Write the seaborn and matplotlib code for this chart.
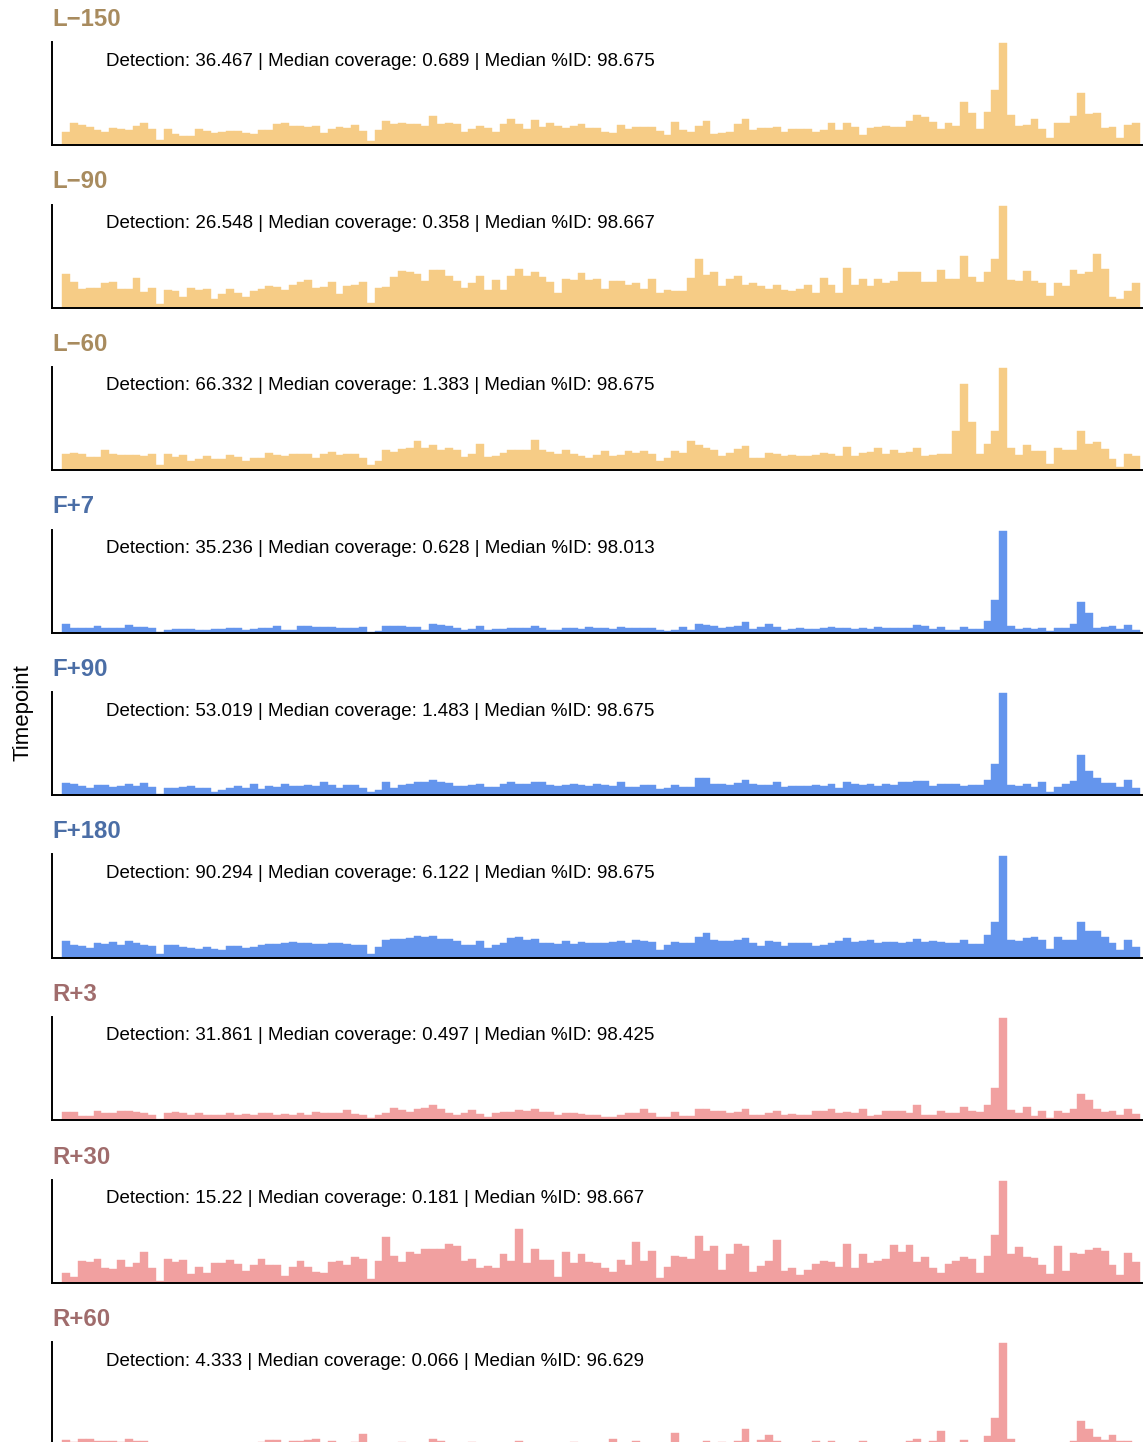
import numpy as np
import matplotlib
matplotlib.use("Agg")
import matplotlib.pyplot as plt
import seaborn as sns

# ---------------- data (coverage per genome bin) ----------------
TIMEPOINTS = ["L\u2212150", "L\u221290", "L\u221260", "F+7", "F+90", "F+180", "R+3", "R+30", "R+60"]
GROUPS = ["L", "L", "L", "F", "F", "F", "R", "R", "R"]
DETECTION = ["36.467", "26.548", "66.332", "35.236", "53.019", "90.294", "31.861", "15.22", "4.333"]
MED_COV = ["0.689", "0.358", "1.383", "0.628", "1.483", "6.122", "0.497", "0.181", "0.066"]
MED_ID = ["98.675", "98.667", "98.675", "98.013", "98.675", "98.675", "98.425", "98.667", "96.629"]

L150 = [39, 66, 60, 54, 44, 39, 52, 48, 45, 57, 66, 48, 15, 49, 32, 28, 28, 48, 42, 35,
        39, 42, 42, 37, 34, 44, 44, 64, 66, 58, 58, 54, 56, 37, 47, 54, 50, 60, 42, 12,
        44, 72, 62, 66, 64, 64, 56, 86, 64, 66, 64, 40, 47, 56, 50, 40, 64, 78, 64, 48,
        74, 54, 66, 56, 50, 56, 62, 50, 52,
        40, 35, 60, 47, 54, 54, 54, 41, 29, 69, 44, 38, 57, 72, 32, 35, 40, 63, 78, 44,
        50, 52, 55, 40, 47, 47, 47, 40, 44, 66, 44, 66, 55, 29, 52, 55, 58, 55, 55, 72,
        90, 84, 69, 49, 66, 58, 127, 95, 47, 99, 165, 303, 90, 58, 61, 78, 47, 22, 66, 66,
        87, 156, 93, 95, 52, 55, 22, 61, 66]
L90 = [100, 76, 56, 59, 59, 71, 74, 56, 56, 87, 46, 59, 10, 53, 50, 30, 59, 53, 56, 25,
       40, 56, 43, 30, 50, 56, 65, 61, 53, 68, 74, 82, 59, 61, 74, 39, 65, 68, 74, 13,
       59, 62, 90, 108, 105, 98, 79, 111, 111, 94, 79, 59, 71, 94, 51, 82, 51, 94, 113, 94,
       105, 90, 74, 44, 84, 82, 102, 80, 84,
       56, 77, 79, 68, 71, 56, 84, 42, 53, 50, 48, 87, 142, 96, 105, 65, 84, 93, 68, 73,
       65, 56, 68, 53, 48, 56, 68, 42, 87, 68, 42, 116, 68, 84, 65, 84, 73, 77, 105, 105,
       105, 74, 74, 111, 85, 85, 151, 90, 74, 105, 142, 301, 82, 79, 108, 77, 71, 33, 71, 65,
       111, 100, 105, 158, 114, 30, 25, 48, 71]
L60 = [48, 51, 46, 38, 39, 59, 48, 44, 44, 44, 42, 46, 16, 48, 39, 44, 26, 33, 40, 34,
       34, 44, 38, 28, 36, 36, 51, 44, 40, 46, 48, 48, 36, 46, 54, 44, 48, 46, 36, 16,
       28, 60, 54, 62, 66, 86, 66, 74, 58, 65, 60, 38, 48, 77, 38, 41, 49, 58, 58, 58,
       88, 58, 54, 46, 58, 46, 40, 36, 44,
       56, 41, 44, 56, 49, 56, 46, 28, 35, 56, 51, 86, 74, 66, 60, 42, 51, 62, 70, 36,
       36, 50, 46, 40, 44, 40, 40, 44, 50, 46, 42, 68, 42, 50, 54, 64, 46, 60, 51, 54,
       64, 42, 44, 46, 48, 116, 253, 143, 46, 78, 116, 301, 64, 44, 73, 56, 56, 18, 64, 60,
       58, 114, 76, 83, 62, 33, 10, 46, 41]
F7 = [26, 13, 13, 13, 18, 13, 13, 13, 21, 16, 16, 14, 2, 8, 9, 9, 9, 8, 7, 9,
      9, 13, 13, 7, 11, 13, 13, 18, 8, 8, 18, 18, 15, 15, 15, 12, 12, 12, 15, 2,
      3, 19, 18, 18, 15, 17, 8, 26, 22, 18, 12, 7, 10, 18, 8, 10, 10, 12, 12, 12,
      18, 12, 8, 8, 13, 13, 10, 15, 13,
      12, 10, 15, 12, 12, 12, 12, 7, 5, 8, 15, 7, 24, 21, 18, 14, 15, 18, 30, 10,
      15, 24, 15, 7, 10, 12, 10, 10, 12, 15, 12, 12, 10, 12, 10, 15, 12, 12, 12, 12,
      21, 18, 10, 15, 6, 6, 15, 9, 9, 35, 96, 304, 19, 11, 12, 9, 12, 4, 12, 12,
      24, 90, 59, 13, 16, 18, 10, 21, 8]
F90 = [36, 34, 28, 22, 30, 30, 24, 28, 34, 28, 36, 24, 4, 22, 22, 24, 26, 22, 22, 10,
       15, 20, 28, 22, 32, 18, 28, 24, 34, 28, 26, 30, 28, 38, 30, 20, 30, 30, 20, 10,
       16, 38, 20, 30, 34, 38, 40, 46, 40, 36, 28, 26, 30, 32, 24, 24, 34, 38, 34, 34,
       40, 40, 30, 26, 30, 34, 30, 28, 32,
       30, 26, 38, 24, 24, 30, 30, 18, 22, 30, 24, 24, 50, 50, 32, 34, 30, 36, 46, 34,
       31, 30, 38, 24, 26, 28, 28, 30, 26, 34, 20, 40, 34, 31, 34, 26, 34, 30, 38, 38,
       41, 41, 28, 34, 33, 32, 26, 30, 30, 46, 94, 304, 31, 28, 34, 24, 38, 10, 24, 34,
       41, 120, 73, 50, 36, 36, 24, 46, 20]
F180 = [50, 38, 33, 29, 42, 40, 45, 38, 50, 42, 38, 34, 9, 37, 38, 32, 29, 26, 32, 26,
        21, 33, 35, 28, 32, 36, 41, 41, 42, 45, 44, 42, 40, 40, 42, 44, 40, 37, 37, 9,
        32, 53, 55, 56, 57, 64, 60, 64, 56, 54, 48, 38, 38, 50, 29, 37, 42, 59, 62, 52,
        55, 44, 44, 40, 48, 40, 46, 42, 42,
        44, 46, 48, 42, 52, 48, 45, 22, 38, 47, 44, 42, 60, 72, 52, 50, 48, 52, 58, 42,
        35, 50, 45, 34, 44, 42, 44, 34, 37, 44, 48, 58, 46, 50, 53, 42, 47, 46, 42, 45,
        55, 47, 48, 47, 44, 42, 52, 40, 40, 66, 105, 303, 53, 50, 58, 60, 52, 26, 60, 53,
        53, 107, 78, 78, 60, 42, 21, 53, 32]
R3 = [24, 24, 12, 12, 27, 20, 22, 26, 26, 24, 20, 16, 2, 20, 24, 20, 16, 20, 14, 16,
      14, 20, 16, 18, 14, 20, 22, 16, 18, 16, 20, 16, 24, 20, 22, 20, 30, 18, 14, 6,
      16, 22, 36, 30, 24, 34, 36, 44, 34, 22, 16, 20, 30, 18, 10, 20, 24, 24, 30, 28,
      32, 24, 24, 16, 22, 20, 18, 16, 16,
      10, 10, 16, 22, 20, 34, 20, 10, 10, 24, 12, 12, 34, 32, 26, 26, 22, 24, 32, 16,
      16, 22, 28, 16, 18, 16, 16, 26, 26, 32, 20, 24, 20, 34, 12, 16, 26, 26, 26, 22,
      44, 16, 16, 26, 22, 22, 38, 28, 24, 44, 96, 301, 30, 20, 38, 12, 26, 6, 26, 20,
      34, 76, 60, 32, 24, 26, 16, 34, 18]
R30 = [29, 17, 62, 59, 70, 42, 40, 65, 46, 57, 89, 42, 4, 70, 60, 65, 26, 47, 29, 57,
       57, 65, 54, 35, 50, 68, 50, 50, 20, 47, 62, 47, 32, 29, 60, 62, 50, 76, 68, 9,
       62, 134, 77, 60, 89, 84, 97, 97, 97, 112, 108, 64, 70, 42, 48, 43, 83, 64, 157, 58,
       97, 65, 65, 17, 89, 57, 83, 60, 57,
       42, 32, 65, 50, 118, 62, 92, 14, 45, 77, 74, 68, 137, 94, 106, 36, 83, 112, 106, 32,
       48, 63, 126, 35, 42, 22, 36, 54, 63, 60, 46, 112, 42, 83, 57, 63, 70, 110, 89, 110,
       60, 74, 42, 29, 54, 62, 74, 68, 29, 77, 141, 299, 83, 103, 74, 71, 50, 26, 106, 34,
       86, 83, 95, 100, 94, 50, 22, 86, 60]
R60 = [15, 9, 17, 17, 13, 13, 13, 9, 17, 13, 11, 7, 3, 6, 6, 5, 5, 6, 5, 5,
       5, 5, 6, 6, 6, 8, 15, 15, 6, 13, 13, 15, 17, 6, 13, 6, 6, 8, 33, 3,
       6, 6, 6, 8, 6, 6, 6, 17, 13, 6, 6, 6, 8, 6, 5, 6, 6, 6, 13, 6,
       6, 6, 6, 5, 6, 8, 6, 6, 6,
       6, 17, 6, 6, 13, 6, 6, 4, 6, 35, 6, 6, 6, 13, 6, 10, 6, 13, 47, 6,
       15, 29, 13, 5, 6, 5, 6, 13, 6, 11, 6, 6, 6, 11, 6, 6, 6, 6, 6, 11,
       19, 6, 11, 42, 6, 6, 15, 6, 6, 27, 80, 307, 17, 6, 6, 6, 6, 4, 6, 6,
       11, 72, 49, 25, 15, 29, 11, 13, 6]
COVERAGE = [L150, L90, L60, F7, F90, F180, R3, R30, R60]

FILL = {"L": "#F6CC86", "F": "#6495ED", "R": "#F1A0A0"}
TITLE_COLOR = {"L": "#A88B5E", "F": "#4B6EA6", "R": "#A06C6C"}

# ---------------- layout (pixels) ----------------
W, H, DPI = 1143, 1442, 100
PANEL_STEP = 162.5
AX_TOP0 = 42
AX_H = 103
AX_LEFT = 52
AX_W = 1098

sns.set_theme(style="white")
plt.rcParams["font.family"] = ["Liberation Sans", "DejaVu Sans"]

fig = plt.figure(figsize=(W / DPI, H / DPI), dpi=DPI)
fig.patch.set_facecolor("white")

for i, (label, grp, cov) in enumerate(zip(TIMEPOINTS, GROUPS, COVERAGE)):
    top = AX_TOP0 + PANEL_STEP * i
    ax = fig.add_axes([AX_LEFT / W, (H - top - AX_H) / H, AX_W / W, AX_H / H])
    pos = np.arange(len(cov))
    # contiguous bars, edge in the fill colour so no seams show between bins
    sns.histplot(x=pos, weights=cov, discrete=True, shrink=1.0, ax=ax,
                 color=FILL[grp], alpha=1.0, edgecolor=FILL[grp], linewidth=0.3)
    ax.set_xlim(-1.82, 138.8)
    ax.set_ylim(0, max(cov) * 1.012)
    ax.set_xticks([]); ax.set_yticks([])
    ax.set_xlabel(""); ax.set_ylabel("")
    ax.set_facecolor("none")
    for side in ["top", "right"]:
        ax.spines[side].set_visible(False)
    for side in ["left", "bottom"]:
        ax.spines[side].set_color("black")
        ax.spines[side].set_linewidth(1.4)
    ax.text((106 - AX_LEFT) / AX_W, 1 - 19 / AX_H,
            f"Detection: {DETECTION[i]} | Median coverage: {MED_COV[i]} | Median %ID: {MED_ID[i]}",
            transform=ax.transAxes, ha="left", va="center", fontsize=13.5, color="black")
    fig.text(AX_LEFT / W, 1 - (26 + PANEL_STEP * i) / H, label, ha="left", va="baseline",
             fontsize=17.3, fontweight="bold", color=TITLE_COLOR[grp])

fig.text(23.5 / W, 1 - 713 / H, "Timepoint", rotation=90, ha="center", va="center",
         fontsize=16, color="black")

fig.savefig("out.png", dpi=DPI, facecolor="white")
